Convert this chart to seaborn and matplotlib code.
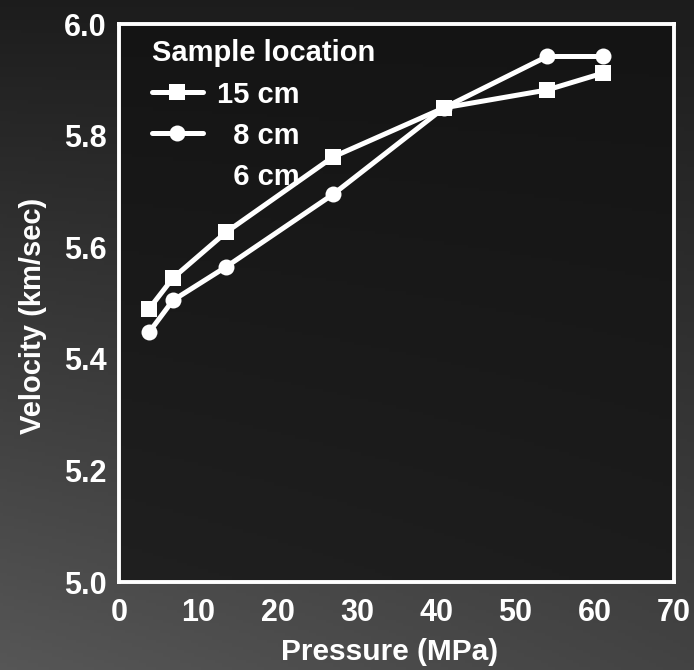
import numpy as np
import pandas as pd
import matplotlib
matplotlib.use("Agg")
import matplotlib.pyplot as plt
import seaborn as sns
from matplotlib.lines import Line2D
from matplotlib.colors import LinearSegmentedColormap

pressure = [3.8, 6.8, 13.5, 27, 41, 54, 61]
vel_15cm = [5.49, 5.545, 5.627, 5.762, 5.85, 5.882, 5.912]
vel_8cm = [5.448, 5.505, 5.565, 5.695, 5.85, 5.942, 5.942]
series_names = ["15 cm", "8 cm", "6 cm"]
legend_title = "Sample location"
xticks = [0, 10, 20, 30, 40, 50, 60, 70]
yticks = [5.0, 5.2, 5.4, 5.6, 5.8, 6.0]

df = pd.DataFrame({
    "Pressure": pressure * 2,
    "Velocity": vel_15cm + vel_8cm,
    "Sample": [series_names[0]] * len(pressure) + [series_names[1]] * len(pressure),
})

sns.set_theme(style="white")
plt.rcParams['font.family'] = ['Liberation Sans', 'DejaVu Sans']
plt.rcParams['font.weight'] = 'bold'

fig = plt.figure(figsize=(6.94, 6.70), dpi=100, facecolor="#3c3c3c")

# background gradient (dark top, grey bottom) imitating the scanned page
bg = fig.add_axes([0, 0, 1, 1], zorder=-10)
yy, xx = np.mgrid[0:1:200j, 0:1:200j]
grad = np.clip(0.15 + 0.75 * yy - 0.25 * xx * yy, 0, 1)
cmap = LinearSegmentedColormap.from_list("bgc", ["#111111", "#5e5e5e"])
bg.imshow(grad, cmap=cmap, aspect="auto", extent=[0, 1, 0, 1], origin="upper", vmin=0, vmax=1)
bg.set_axis_off()

ax = fig.add_axes([0.1715, 0.131, 0.7995, 0.833])
ax.set_facecolor("#111111")
ax.patch.set_alpha(0.75)

sns.lineplot(data=df, x="Pressure", y="Velocity", hue="Sample", style="Sample",
             markers={"15 cm": "s", "8 cm": "o"}, dashes=False,
             palette={"15 cm": "white", "8 cm": "white"},
             linewidth=3.6, markersize=11.5, markeredgewidth=0, ax=ax, legend=False)

ax.set_xlim(0, 70)
ax.set_ylim(5.0, 6.0)
ax.set_xticks(xticks)
ax.set_yticks(yticks)
ax.set_xticklabels([str(t) for t in xticks])
ax.set_yticklabels([f"{t:.1f}" for t in yticks])
ax.tick_params(direction="in", length=9, width=2.5, colors="white",
               labelsize=22, pad=9)
ax.tick_params(axis="x", pad=11)
for s in ax.spines.values():
    s.set_color("white")
    s.set_linewidth(2.8)
    s.set_visible(True)

ax.set_xlabel("Pressure (MPa)", color="white", fontsize=21.5, fontweight="bold")
ax.set_ylabel("Velocity (km/sec)", color="white", fontsize=21, fontweight="bold")
ax.xaxis.set_label_coords(0.488, -0.1)
ax.yaxis.set_label_coords(-0.13, 0.478)

handles = [
    Line2D([], [], color="white", lw=3.6, marker="s", markersize=11.5, markeredgewidth=0),
    Line2D([], [], color="white", lw=3.6, marker="o", markersize=11.5, markeredgewidth=0),
    Line2D([], [], color="none", lw=0),
]
labels = [series_names[0], "\u2007" + series_names[1], "\u2007" + series_names[2]]
leg = ax.legend(handles, labels, title=legend_title, loc="upper left",
                bbox_to_anchor=(0.027, 1.004),
                frameon=False, fontsize=21, title_fontsize=21, handlelength=1.75,
                labelspacing=0.45, borderaxespad=0.2, handletextpad=0.5,
                labelcolor="white")
leg.get_title().set_color("white")
leg.get_title().set_fontweight("bold")
leg._legend_box.align = "left"

fig.savefig("out.png", dpi=100, facecolor=fig.get_facecolor())
